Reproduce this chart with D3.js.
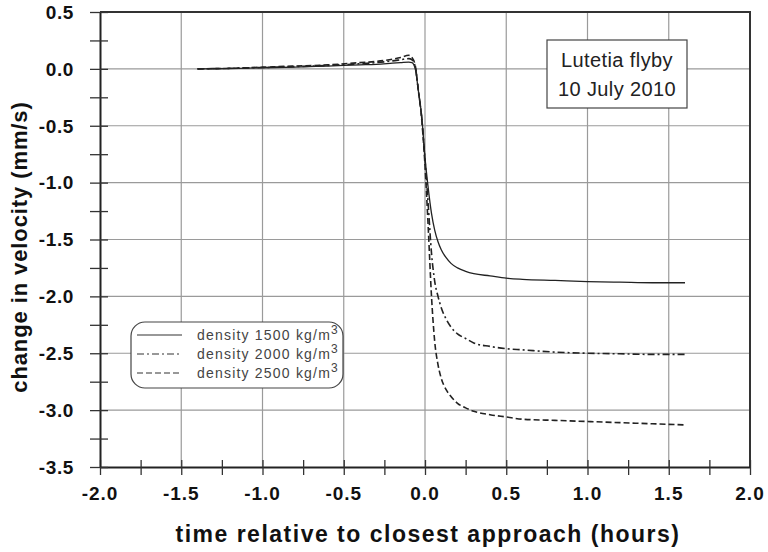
<!DOCTYPE html>
<html>
<head>
<meta charset="utf-8">
<script src="https://cdn.jsdelivr.net/npm/d3@7"></script>
<style>
  body { margin: 0; background: #fff; }
  text { font-family: "Liberation Sans", Arial, sans-serif; }
</style>
</head>
<body>
<div id="chart-area"></div>
<script>
// time relative to closest approach (hours)
var times = [-1.4, -1.2, -1.0, -0.8, -0.6, -0.4, -0.3, -0.2, -0.15, -0.1, -0.08, -0.06, -0.04, -0.02,
  0.0, 0.02, 0.04, 0.06, 0.08, 0.1, 0.13, 0.16, 0.2, 0.25, 0.3, 0.4, 0.5, 0.6, 0.8, 1.0, 1.2, 1.4, 1.6];

// change in velocity (mm/s) per density
var dens1500 = [0.0, 0.003, 0.01, 0.015, 0.025, 0.035, 0.04, 0.05, 0.055, 0.06, 0.055, 0.0, -0.2, -0.42,
  -0.78, -1.05, -1.27, -1.42, -1.52, -1.59, -1.66, -1.71, -1.75, -1.78, -1.80, -1.82, -1.84, -1.85, -1.86, -1.87, -1.875, -1.88, -1.88];
var dens2000 = [0.0, 0.005, 0.012, 0.02, 0.03, 0.045, 0.055, 0.07, 0.08, 0.09, 0.08, 0.02, -0.2, -0.43,
  -0.8, -1.2, -1.62, -1.87, -2.0, -2.1, -2.2, -2.27, -2.33, -2.37, -2.41, -2.44, -2.46, -2.47, -2.49, -2.5, -2.505, -2.51, -2.51];
var dens2500 = [0.0, 0.005, 0.015, 0.025, 0.035, 0.055, 0.065, 0.085, 0.1, 0.12, 0.1, 0.03, -0.2, -0.45,
  -0.85, -1.4, -2.0, -2.4, -2.6, -2.72, -2.82, -2.88, -2.94, -2.98, -3.01, -3.04, -3.06, -3.08, -3.09, -3.1, -3.11, -3.12, -3.13];

var seriesNames = ["density 1500 kg/m", "density 2000 kg/m", "density 2500 kg/m"];
var seriesValues = [dens1500, dens2000, dens2500];
var seriesDash = [null, "7,3,2,3", "6,3"];

var xTicks = [-2.0, -1.5, -1.0, -0.5, 0.0, 0.5, 1.0, 1.5, 2.0];
var yTicks = [0.5, 0.0, -0.5, -1.0, -1.5, -2.0, -2.5, -3.0, -3.5];

var width = 768, height = 552;
var margin = {left: 100, right: 18, top: 12, bottom: 85};

var svg = d3.select("#chart-area")
  .append("svg")
  .attr("width", width)
  .attr("height", height);

var x = d3.scaleLinear().domain([-2, 2]).range([margin.left, width - margin.right]);
var y = d3.scaleLinear().domain([-3.5, 0.5]).range([height - margin.bottom, margin.top]);

// grid
svg.append("g")
  .selectAll("line.vg")
  .data(xTicks.slice(1, -1))
  .enter().append("line")
  .attr("x1", d => x(d)).attr("x2", d => x(d))
  .attr("y1", y(0.5)).attr("y2", y(-3.5))
  .attr("stroke", "#9a9a9a").attr("stroke-width", 1.2);

svg.append("g")
  .selectAll("line.hg")
  .data(yTicks.slice(1, -1))
  .enter().append("line")
  .attr("x1", x(-2)).attr("x2", x(2))
  .attr("y1", d => y(d)).attr("y2", d => y(d))
  .attr("stroke", "#9a9a9a").attr("stroke-width", 1.2);

// top and right frame
svg.append("path")
  .attr("d", "M" + x(-2) + "," + y(0.5) + "H" + x(2) + "V" + y(-3.5))
  .attr("fill", "none").attr("stroke", "#333").attr("stroke-width", 2);

// axes
var fmt = d => d.toFixed(1);
var xAxis = svg.append("g")
  .attr("transform", "translate(0," + y(-3.5) + ")")
  .call(d3.axisBottom(x).tickValues(d3.range(-2, 2.01, 0.25)).tickSize(0).tickFormat(""));
xAxis.select(".domain").attr("stroke", "#222").attr("stroke-width", 2);
xAxis.selectAll(".tick line")
  .attr("y1", -7).attr("y2", 8)
  .attr("stroke", "#333").attr("stroke-width", 1.3);

var yAxis = svg.append("g")
  .attr("transform", "translate(" + x(-2) + ",0)")
  .call(d3.axisLeft(y).tickValues(d3.range(-3.5, 0.51, 0.25)).tickSize(0).tickFormat(""));
yAxis.select(".domain").attr("stroke", "#222").attr("stroke-width", 2);
yAxis.selectAll(".tick line")
  .attr("x1", -10).attr("x2", 8)
  .attr("stroke", "#333").attr("stroke-width", 1.3);

// tick labels
svg.append("g")
  .selectAll("text")
  .data(xTicks)
  .enter().append("text")
  .attr("x", d => x(d))
  .attr("y", y(-3.5) + 33)
  .attr("text-anchor", "middle")
  .attr("font-size", 19).attr("font-weight", "bold").attr("fill", "#111")
  .attr("letter-spacing", 1)
  .text(d => fmt(d));

svg.append("g")
  .selectAll("text")
  .data(yTicks)
  .enter().append("text")
  .attr("x", 74)
  .attr("y", d => y(d))
  .attr("dy", "0.36em")
  .attr("text-anchor", "end")
  .attr("font-size", 19).attr("font-weight", "bold").attr("fill", "#111")
  .attr("letter-spacing", 0.6)
  .text(d => fmt(d));

// axis titles
svg.append("text")
  .attr("x", 428).attr("y", 542)
  .attr("text-anchor", "middle")
  .attr("font-size", 23).attr("font-weight", "bold").attr("fill", "#111")
  .attr("letter-spacing", 1.5)
  .text("time relative to closest approach (hours)");

svg.append("text")
  .attr("transform", "translate(27," + 247 + ") rotate(-90)")
  .attr("text-anchor", "middle")
  .attr("font-size", 22).attr("font-weight", "bold").attr("fill", "#111")
  .attr("letter-spacing", 0.9)
  .text("change in velocity (mm/s)");

// curves
var line = d3.line()
  .x((d, i) => x(times[i]))
  .y(d => y(d))
  .curve(d3.curveMonotoneX);

svg.append("g")
  .selectAll("path")
  .data(seriesValues)
  .enter().append("path")
  .attr("d", d => line(d))
  .attr("fill", "none")
  .attr("stroke", "#222")
  .attr("stroke-width", (d, i) => i == 0 ? 1.3 : 1.6)
  .attr("stroke-dasharray", (d, i) => seriesDash[i]);

// legend
var lg = svg.append("g");
lg.append("rect")
  .attr("x", 131).attr("y", 322).attr("width", 212).attr("height", 66)
  .attr("rx", 14).attr("ry", 14)
  .attr("fill", "#fff").attr("stroke", "#444").attr("stroke-width", 1.2);

var rows = lg.selectAll("g.row")
  .data(seriesNames)
  .enter().append("g")
  .attr("transform", (d, i) => "translate(0," + (335 + i * 19) + ")");

rows.append("line")
  .attr("x1", 137).attr("x2", 182)
  .attr("stroke", "#333").attr("stroke-width", 1.2)
  .attr("stroke-dasharray", (d, i) => seriesDash[i]);

var lt = rows.append("text")
  .attr("x", 197).attr("dy", "0.36em")
  .attr("font-size", 14).attr("fill", "#444")
  .attr("letter-spacing", 1.2)
  .text(d => d);
lt.append("tspan")
  .attr("dy", "-0.5em").attr("font-size", 12)
  .text("3");

// annotation box
svg.append("rect")
  .attr("x", 547).attr("y", 40).attr("width", 140).attr("height", 68)
  .attr("fill", "#fff").attr("stroke", "#444").attr("stroke-width", 1.2);
svg.append("text")
  .attr("x", 617).attr("y", 67)
  .attr("text-anchor", "middle")
  .attr("font-size", 20).attr("fill", "#222")
  .attr("letter-spacing", 0.4)
  .text("Lutetia flyby");
svg.append("text")
  .attr("x", 617).attr("y", 96)
  .attr("text-anchor", "middle")
  .attr("font-size", 20).attr("fill", "#222")
  .attr("letter-spacing", 0.4)
  .text("10 July 2010");
</script>
</body>
</html>
